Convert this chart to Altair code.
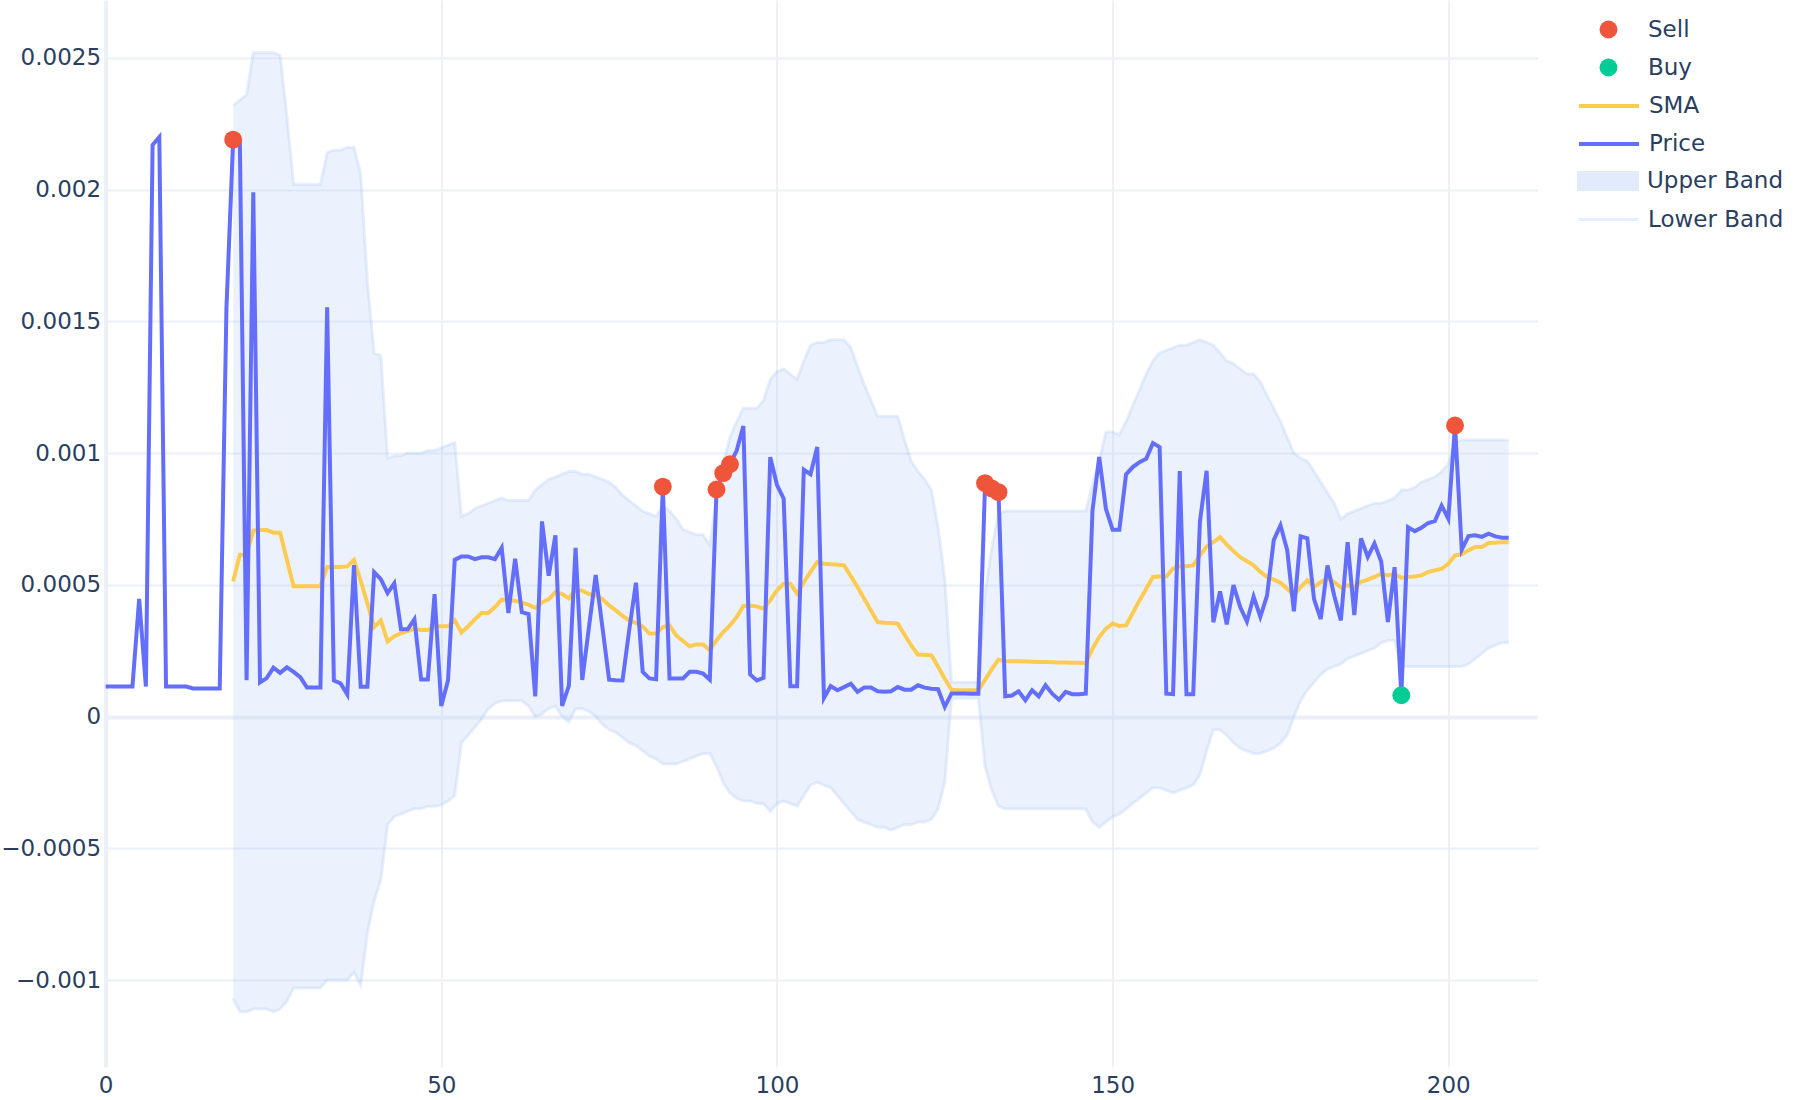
import altair as alt
import pandas as pd

# ---------------- data ----------------
x_price = list(range(0, 210))
price = [
    0.000114, 0.000114, 0.000114, 0.000114, 0.000114, 0.000447, 0.000114, 0.00217, 0.0022, 0.000114,
    0.000114, 0.000114, 0.000114, 0.000107, 0.000107, 0.000107, 0.000107, 0.000107, 0.00155, 0.00219,
    0.00218, 0.000138, 0.00199, 0.00013, 0.000146, 0.000186, 0.000166, 0.000187, 0.00017, 0.00015,
    0.00011, 0.00011, 0.00011, 0.001554, 0.000137, 0.000126, 0.000084, 0.000575, 0.000113, 0.000113,
    0.000548, 0.000522, 0.000469, 0.000506, 0.000332, 0.000332, 0.000369, 0.000141, 0.000141, 0.000465,
    0.00004, 0.000137, 0.000595, 0.000608, 0.000608, 0.000598, 0.000605, 0.000605, 0.000598, 0.000641,
    0.000393, 0.000599, 0.000396, 0.000389, 0.000077, 0.000741, 0.000535, 0.000688, 0.000041, 0.000117,
    0.000641, 0.000139, 0.00034, 0.000537, 0.00034, 0.00014, 0.000138, 0.000137, 0.00033, 0.000508,
    0.00017, 0.000145, 0.000142, 0.000873, 0.000145, 0.000145, 0.000145, 0.00017, 0.00017, 0.000163,
    0.00014, 0.000862, 0.000924, 0.000958, 0.00101, 0.001103, 0.00016, 0.000137, 0.000147, 0.000985,
    0.00088, 0.000827, 0.000115, 0.000115, 0.000937, 0.00092, 0.001023, 0.000071, 0.000116, 0.0001,
    0.000112, 0.000125, 0.000094, 0.00011, 0.00011, 0.000096, 0.000094, 0.000096, 0.000112, 0.000102,
    0.000102, 0.000119, 0.00011, 0.000106, 0.000104, 0.000037, 0.000088, 0.000088, 0.000088, 0.000087,
    0.000087, 0.000886, 0.000866, 0.000852, 0.000077, 0.00008, 0.000096, 0.000062, 0.0001, 0.000077,
    0.000119, 0.000087, 0.000064, 0.000094, 0.000085, 0.000085, 0.000087, 0.000783, 0.000985, 0.000789,
    0.000709, 0.000709, 0.000919, 0.000947, 0.000966, 0.000979, 0.001038, 0.001023, 0.000087, 0.000085,
    0.000932, 0.000085, 0.000085, 0.00074, 0.000933, 0.000358, 0.000475, 0.00035, 0.000499, 0.000416,
    0.000361, 0.000455, 0.000379, 0.000459, 0.00067, 0.000726, 0.000632, 0.0004, 0.000684, 0.000677,
    0.000446, 0.00037, 0.000574, 0.00046, 0.000365, 0.000662, 0.000385, 0.000676, 0.000606, 0.000657,
    0.000589, 0.000359, 0.000567, 0.000081, 0.000719, 0.000704, 0.000717, 0.000735, 0.000742, 0.000801,
    0.000751, 0.001105, 0.000633, 0.000685, 0.000688, 0.000682, 0.000694, 0.000684, 0.000679, 0.000679,
]

x_band = list(range(19, 210))
sma = [
    0.000513,
    0.000614, 0.000614, 0.000706, 0.000708, 0.000708, 0.000698, 0.000698, 0.000595, 0.000495, 0.000495,
    0.000495, 0.000495, 0.000495, 0.000568, 0.000568, 0.000568, 0.00057, 0.000595, 0.000515, 0.000429,
    0.00034, 0.000365, 0.000285, 0.000305, 0.000316, 0.000325, 0.000333, 0.000329, 0.000329, 0.000343,
    0.000343, 0.000343, 0.000366, 0.000319, 0.000343, 0.000369, 0.000393, 0.000393, 0.000416, 0.000445,
    0.00044, 0.00044, 0.000432, 0.000425, 0.000413, 0.000433, 0.000445, 0.000473, 0.000465, 0.000449,
    0.000481, 0.000478, 0.000465, 0.000462, 0.000446, 0.000422, 0.000403, 0.000382, 0.000365, 0.000355,
    0.000342, 0.000315, 0.000315, 0.00034, 0.000346, 0.000308, 0.000287, 0.000267, 0.000274, 0.000274,
    0.000252, 0.00029, 0.000321, 0.000346, 0.000378, 0.00042, 0.000422, 0.000418, 0.00041, 0.000441,
    0.000479, 0.000504, 0.000504, 0.000467, 0.00051, 0.000549, 0.000587, 0.00058, 0.000578, 0.000577,
    0.000574, 0.000533, 0.000492, 0.000447, 0.000403, 0.000359, 0.000356, 0.000355, 0.000353, 0.000311,
    0.00027, 0.000235, 0.000235, 0.000233, 0.000189, 0.000144, 0.000102, 0.0001, 0.0001, 0.0001,
    0.0001, 0.00014, 0.00018, 0.000216, 0.000211, 0.00021, 0.00021, 0.000209, 0.000208, 0.000207,
    0.000207, 0.000206, 0.000205, 0.000205, 0.000204, 0.000204, 0.000203, 0.000258, 0.000302, 0.000334,
    0.000353, 0.000344, 0.000346, 0.000393, 0.000441, 0.000485, 0.00053, 0.000532, 0.000532, 0.000562,
    0.000571, 0.000571, 0.000574, 0.000612, 0.000646, 0.000662, 0.000681, 0.000653, 0.000628, 0.000605,
    0.00059, 0.000574, 0.000549, 0.00053, 0.00052, 0.000508, 0.000485, 0.00046, 0.000492, 0.000517,
    0.000492, 0.00051, 0.000525, 0.00051, 0.00049, 0.000498, 0.000492, 0.000511, 0.00052, 0.00053,
    0.000542, 0.000536, 0.000542, 0.000527, 0.00053, 0.000532, 0.000536, 0.000549, 0.000555, 0.000561,
    0.00058, 0.000612, 0.000616, 0.000631, 0.000644, 0.000644, 0.000659, 0.00066, 0.000662, 0.000662,
]
upper = [
    0.00232,
    0.00234, 0.00236, 0.00252, 0.00252, 0.00252, 0.00252, 0.00251, 0.00228, 0.00202, 0.00202,
    0.00202, 0.00202, 0.00202, 0.00214, 0.00215, 0.00215, 0.00216, 0.00216, 0.00206, 0.00165,
    0.00138, 0.00137, 0.00098, 0.00099, 0.00099, 0.001, 0.001, 0.001, 0.00101, 0.00101,
    0.00102, 0.00103, 0.00104, 0.00076, 0.00077, 0.00079, 0.0008, 0.00081, 0.00082, 0.00083,
    0.00082, 0.00082, 0.00082, 0.00082, 0.00086, 0.00088, 0.0009, 0.00091, 0.00092, 0.00093,
    0.00093, 0.00092, 0.00092, 0.00091, 0.0009, 0.00089, 0.00087, 0.00084, 0.00082, 0.0008,
    0.00078, 0.00077, 0.00076, 0.0008, 0.00078, 0.00075, 0.00071, 0.0007, 0.00069, 0.00069,
    0.00065, 0.00083, 0.00096, 0.00106, 0.00112, 0.00117, 0.00117, 0.00117, 0.0012, 0.00128,
    0.00131, 0.00132, 0.0013, 0.00128, 0.00135, 0.00141, 0.00142, 0.00142, 0.00143, 0.00143,
    0.00143, 0.0014, 0.00133, 0.00126, 0.0012, 0.00114, 0.00114, 0.00114, 0.00114, 0.00105,
    0.00097, 0.00093, 0.0009, 0.00086, 0.00072, 0.00052, 0.00013, 0.00013, 0.00013, 0.00013,
    0.00013, 0.00047, 0.00064, 0.00077, 0.00078, 0.00078, 0.00078, 0.00078, 0.00078, 0.00078,
    0.00078, 0.00078, 0.00078, 0.00078, 0.00078, 0.00078, 0.00078, 0.00088, 0.00097, 0.00108,
    0.00108, 0.00107, 0.00112, 0.00118, 0.00124, 0.0013, 0.00135, 0.00138, 0.00139, 0.0014,
    0.00141, 0.00141, 0.00142, 0.00143, 0.00142, 0.00141, 0.00138, 0.00135, 0.00134, 0.00132,
    0.0013, 0.0013, 0.00127, 0.00122, 0.00117, 0.00112, 0.00106, 0.001, 0.00098, 0.00097,
    0.00093, 0.00089, 0.00085, 0.00081, 0.00075, 0.00077, 0.00078, 0.00079, 0.0008, 0.00081,
    0.00081, 0.00082, 0.00083, 0.00086, 0.00086, 0.00087, 0.00089, 0.0009, 0.00091, 0.00093,
    0.00096, 0.00104, 0.00105, 0.00105, 0.00105, 0.00105, 0.00105, 0.00105, 0.00105, 0.00105,
]
lower = [
    -0.00107,
    -0.00112, -0.00112, -0.00111, -0.00111, -0.00111, -0.00112, -0.00111, -0.00108, -0.00103, -0.00103,
    -0.00103, -0.00103, -0.00103, -0.001, -0.001, -0.001, -0.001, -0.00097, -0.00102, -0.00082,
    -0.0007, -0.00062, -0.00041, -0.00038, -0.00037, -0.00036, -0.00035, -0.00035, -0.00034, -0.00034,
    -0.000335, -0.00032, -0.0003, -0.0001, -0.00007, -0.00004, -0.00001, 0.00003, 0.00005, 0.00006,
    0.00006, 0.00006, 0.00006, 0.00004, 0.0, 0.00001, 0.00003, 0.00004, 0.0, -0.00002,
    0.00003, 0.00003, 0.00002, 0.0, -0.00003, -0.00005, -0.00006, -0.00008, -0.0001, -0.00011,
    -0.00013, -0.00015, -0.00016, -0.00018, -0.00018, -0.00018, -0.00017, -0.00016, -0.00015, -0.00014,
    -0.00014, -0.00019, -0.00025, -0.00029, -0.00031, -0.00032, -0.00032, -0.00033, -0.00033, -0.00036,
    -0.00033, -0.00032, -0.00033, -0.00034, -0.0003, -0.00026, -0.00025, -0.00026, -0.00027, -0.0003,
    -0.00033, -0.00036, -0.00039, -0.0004, -0.00041, -0.00042, -0.00042, -0.00043, -0.00042, -0.00041,
    -0.00041, -0.0004, -0.0004, -0.00039, -0.00035, -0.00025, 0.00007, 0.00007, 0.00007, 0.00007,
    0.00007, -0.00019, -0.00028, -0.00034, -0.00035, -0.00035, -0.00035, -0.00035, -0.00035, -0.00035,
    -0.00035, -0.00035, -0.00035, -0.00035, -0.00035, -0.00035, -0.00035, -0.0004, -0.00042, -0.0004,
    -0.00038, -0.00037, -0.00035, -0.00033, -0.00031, -0.00029, -0.00027, -0.00027, -0.00028, -0.00029,
    -0.00028, -0.00027, -0.00026, -0.00022, -0.00013, -0.00005, -0.00005, -0.00007, -0.0001, -0.00012,
    -0.00013, -0.00014, -0.00014, -0.00013, -0.00012, -0.0001, -0.00007, 0.0, 0.00006, 0.0001,
    0.00013, 0.00016, 0.00018, 0.00019, 0.0002, 0.00022, 0.00023, 0.00024, 0.00025, 0.00026,
    0.00028, 0.00029, 0.00029, 0.00019, 0.00019, 0.00019, 0.00019, 0.00019, 0.00019, 0.00019,
    0.00019, 0.00019, 0.00019, 0.0002, 0.00022, 0.00024, 0.00026, 0.00027, 0.00028, 0.00028,
]
sell_x = [19, 83, 91, 92, 93, 131, 132, 133, 201]
sell_y = [0.00219, 0.000873, 0.000862, 0.000924, 0.000958, 0.000886, 0.000866, 0.000852, 0.001105]
buy_x = [193]
buy_y = [0.000081]

x_ticks = [0, 50, 100, 150, 200]
y_ticks = [-0.001, -0.0005, 0, 0.0005, 0.001, 0.0015, 0.002, 0.0025]

# ---------------- styling ----------------
FONT = "DejaVu Sans"
FS = 23
TEXT = "#2a3f5f"
GRID = "#EBF0F8"
C_PRICE = "#636EFA"
C_SMA = "#FECB52"
C_SELL = "#EF553B"
C_BUY = "#00CC96"
C_BAND = "#9FC0F5"

LEFT = 105.6
W, H = 1432, 1067

price_df = pd.DataFrame({"x": x_price, "price": price, "k": "Price"})
band_df = pd.DataFrame({"x": x_band, "upper": upper, "lower": lower, "sma": sma})
band_df["k_up"] = "Upper Band"
band_df["k_low"] = "Lower Band"
band_df["k_sma"] = "SMA"
sell_df = pd.DataFrame({"x": sell_x, "y": sell_y, "k": "Sell"})
buy_df = pd.DataFrame({"x": buy_x, "y": buy_y, "k": "Buy"})

xs = alt.Scale(domain=[0, 213.3], nice=False, zero=False)
ys = alt.Scale(domain=[-0.00133, 0.00272], nice=False, zero=False)

x_axis = alt.Axis(
    values=x_ticks, title=None, grid=True, gridColor=GRID,
    gridWidth={"condition": {"test": "datum.value === 0", "value": 4}, "value": 2},
    domain=False, ticks=False, labelFont=FONT, labelFontSize=FS, labelColor=TEXT,
    labelPadding=7, labelFlush=False,
)
y_axis = alt.Axis(
    values=y_ticks, title=None, grid=True, gridColor=GRID, format="~g",
    gridWidth={"condition": {"test": "datum.value === 0", "value": 4}, "value": 2},
    domain=False, ticks=False, labelFont=FONT, labelFontSize=FS, labelColor=TEXT,
    labelPadding=5,
)

X = alt.X("x:Q", scale=xs, axis=x_axis)
LX = 1607 - LEFT  # legend symbol center (plot coords)
LABEL_X = 1645 - LEFT


def leg(cy, width, half_h, **kw):
    return alt.Legend(
        orient="none", legendX=LX - width / 2, legendY=cy - half_h, title=None,
        labelFont=FONT, labelFontSize=FS, labelColor=TEXT, padding=0,
        labelOffset=LABEL_X - (LX + width / 2), **kw,
    )


area = alt.Chart(band_df).mark_area(fillOpacity=0.2).encode(
    x=X,
    y=alt.Y("upper:Q", scale=ys, axis=y_axis),
    y2="lower:Q",
    color=alt.Color("k_up:N", scale=alt.Scale(domain=["Upper Band"], range=[C_BAND]),
                    legend=leg(180, 60, 30, symbolType="M-1,-0.3H1V0.3H-1Z", symbolSize=3600,
                               symbolOpacity=0.3, symbolStrokeColor=C_BAND, symbolStrokeWidth=2)),
)
up_line = alt.Chart(band_df).mark_line(strokeWidth=3, opacity=0.25, color=C_BAND).encode(
    x=X, y=alt.Y("upper:Q", scale=ys, axis=y_axis),
)
low_line = alt.Chart(band_df).mark_line(strokeWidth=3, opacity=0.25).encode(
    x=X, y=alt.Y("lower:Q", scale=ys, axis=y_axis),
    color=alt.Color("k_low:N", scale=alt.Scale(domain=["Lower Band"], range=[C_BAND]),
                    legend=leg(218, 60, 30, symbolType="stroke", symbolSize=3600,
                               symbolStrokeWidth=3, symbolOpacity=0.25)),
)
sma_line = alt.Chart(band_df).mark_line(strokeWidth=4).encode(
    x=X, y=alt.Y("sma:Q", scale=ys, axis=y_axis),
    color=alt.Color("k_sma:N", scale=alt.Scale(domain=["SMA"], range=[C_SMA]),
                    legend=leg(104, 60, 30, symbolType="stroke", symbolSize=3600, symbolStrokeWidth=4)),
)
price_line = alt.Chart(price_df).mark_line(strokeWidth=4).encode(
    x=X, y=alt.Y("price:Q", scale=ys, axis=y_axis),
    color=alt.Color("k:N", scale=alt.Scale(domain=["Price"], range=[C_PRICE]),
                    legend=leg(142, 60, 30, symbolType="stroke", symbolSize=3600, symbolStrokeWidth=4)),
)
sell_pts = alt.Chart(sell_df).mark_circle(size=320, opacity=1).encode(
    x=X, y=alt.Y("y:Q", scale=ys, axis=y_axis),
    color=alt.Color("k:N", scale=alt.Scale(domain=["Sell"], range=[C_SELL]),
                    legend=leg(30, 20, 12, symbolType="circle", symbolSize=320, symbolOpacity=1)),
)
buy_pts = alt.Chart(buy_df).mark_circle(size=320, opacity=1).encode(
    x=X, y=alt.Y("y:Q", scale=ys, axis=y_axis),
    color=alt.Color("k:N", scale=alt.Scale(domain=["Buy"], range=[C_BUY]),
                    legend=leg(68, 20, 12, symbolType="circle", symbolSize=320, symbolOpacity=1)),
)

chart = (
    alt.layer(area, up_line, low_line, sma_line, price_line, sell_pts, buy_pts)
    .resolve_scale(color="independent")
    .properties(
        width=W, height=H,
        autosize=alt.AutoSizeParams(type="none"),
        padding={"left": LEFT, "top": 0, "right": 1800 - LEFT - W, "bottom": 1100 - H},
        background="white",
    )
    .configure_view(stroke=None)
)

chart.save("out.html", embed_options={"renderer": "svg", "actions": False})
